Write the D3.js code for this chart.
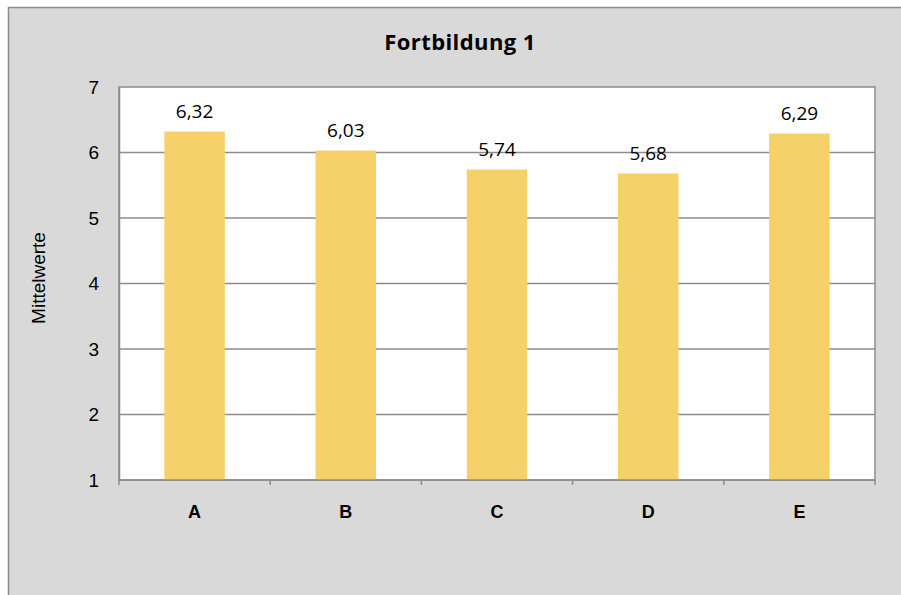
<!DOCTYPE html>
<html><head><meta charset="utf-8">
<script src="https://cdn.jsdelivr.net/npm/d3@7"></script>
<style>body{margin:0;background:#fff}svg{display:block}</style>
</head><body>
<script>
const categories = ["A","B","C","D","E"];
const values = [6.32, 6.03, 5.74, 5.68, 6.29];
const labels = ["6,32","6,03","5,74","5,68","6,29"];
const yTicks = [1,2,3,4,5,6,7];
const title = "Fortbildung 1";
const yTitle = "Mittelwerte";

const W = 901, H = 595;
const svg = d3.select("body").append("svg").attr("width", W).attr("height", H);
svg.append("rect").attr("x", 8.5).attr("y", 7.5).attr("width", 1000).attr("height", 1000)
  .attr("fill", "#d9d9d9").attr("stroke", "#8c8c8c").attr("stroke-width", 1.5);

const m = {l:119, t:87, r:875, b:480};
const x = d3.scaleBand().domain(categories).range([m.l, m.r]).paddingInner(0.6).paddingOuter(0.3);
const y = d3.scaleLinear().domain([1,7]).range([m.b, m.t]);

svg.append("rect").attr("x", m.l).attr("y", m.t).attr("width", m.r-m.l).attr("height", m.b-m.t)
  .attr("fill", "#fff").attr("stroke", "#8c8c8c").attr("stroke-width", 1.5);

svg.append("g").selectAll("line").data(yTicks.slice(1,-1)).join("line")
  .attr("x1", m.l).attr("x2", m.r).attr("y1", d=>y(d)).attr("y2", d=>y(d))
  .attr("stroke", "#8c8c8c").attr("stroke-width", 1.3);

svg.append("g").selectAll("rect").data(values).join("rect")
  .attr("x", (d,i)=>x(categories[i])).attr("width", x.bandwidth())
  .attr("y", d=>y(d)).attr("height", d=>m.b - y(d)).attr("fill", "#f6d068");

// axes
const yAxis = d3.axisLeft(y).tickValues(yTicks).tickSize(0).tickPadding(20).tickFormat(d3.format("d"));
const gy = svg.append("g").attr("transform", `translate(${m.l},0)`).call(yAxis);
gy.select(".domain").attr("stroke", "#8c8c8c").attr("stroke-width", 1.5);
gy.selectAll("text").attr("font-family", "Liberation Sans, Arial, sans-serif").attr("font-size", 19).attr("fill", "#000");

const bounds = d3.range(categories.length+1).map(i => m.l + i*(m.r-m.l)/categories.length);
svg.append("line").attr("x1", m.l).attr("x2", m.r).attr("y1", m.b).attr("y2", m.b)
  .attr("stroke", "#8c8c8c").attr("stroke-width", 1.5);
svg.append("g").selectAll("line").data(bounds).join("line")
  .attr("x1", d=>d).attr("x2", d=>d).attr("y1", m.b).attr("y2", m.b+5)
  .attr("stroke", "#8c8c8c").attr("stroke-width", 1.5);

svg.append("g").selectAll("text").data(categories).join("text")
  .attr("x", d=>x(d)+x.bandwidth()/2).attr("y", 518).attr("text-anchor", "middle")
  .attr("font-family", "Liberation Sans, Arial, sans-serif").attr("font-weight", "bold")
  .attr("font-size", 18).text(d=>d);

svg.append("g").selectAll("text").data(values).join("text")
  .attr("x", (d,i)=>x(categories[i])+x.bandwidth()/2).attr("y", d=>y(d)-13.5)
  .attr("text-anchor", "middle").attr("font-family", "Open Sans, Noto Sans, sans-serif")
  .attr("font-size", 19).text((d,i)=>labels[i]);

svg.append("text").attr("x", 460).attr("y", 50).attr("text-anchor", "middle")
  .attr("font-family", "Open Sans, Noto Sans, sans-serif").attr("font-weight", "bold")
  .attr("font-size", 22).attr("letter-spacing", 0.4).text(title);

svg.append("text").attr("transform", `translate(45,278) rotate(-90)`)
  .attr("text-anchor", "middle").attr("font-family", "Liberation Sans, Arial, sans-serif")
  .attr("font-size", 19).text(yTitle);
</script>
</body></html>
